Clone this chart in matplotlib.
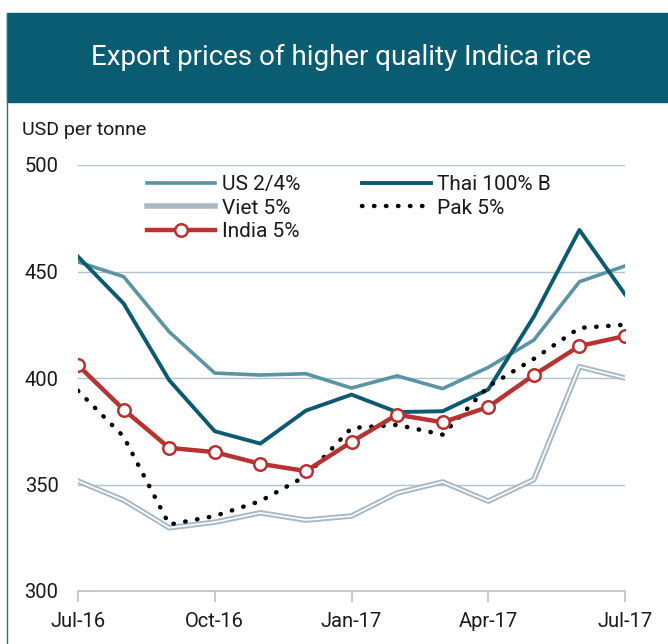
import matplotlib.pyplot as plt
from matplotlib.patches import Rectangle
from matplotlib.lines import Line2D

# Monthly export prices, Jul-16 .. Jul-17 (USD per tonne)
months = list(range(13))
tick_pos = [0, 3, 6, 9, 12]
tick_labels = ['Jul-16', 'Oct-16', 'Jan-17', 'Apr-17', 'Jul-17']

us = [454.5, 447.6, 421.7, 402.3, 401.4, 402.0, 395.3, 401.0, 395.0, 405.0, 417.8, 445.2, 452.6]
thai = [457.0, 435.0, 399.0, 375.0, 369.2, 384.7, 392.2, 384.0, 384.4, 394.6, 428.8, 469.5, 439.3]
viet = [351.6, 342.7, 329.7, 332.3, 336.7, 333.3, 335.2, 346.0, 351.2, 342.2, 352.3, 405.3, 400.0]
pak = [394.0, 372.5, 331.2, 335.2, 342.2, 354.0, 376.5, 378.0, 373.4, 396.0, 409.0, 423.5, 425.0]
india = [406.0, 385.2, 367.2, 365.2, 359.7, 356.3, 370.0, 382.8, 379.2, 386.4, 401.4, 415.0, 419.7]

plt.rcParams['font.family'] = ['Roboto', 'DejaVu Sans']

W, H = 668, 644
fig = plt.figure(figsize=(W / 100, H / 100), dpi=100)

# title banner and left frame line
fig.patches.append(Rectangle((7 / W, (H - 102) / H), 1 - 7 / W, 89 / H,
                             transform=fig.transFigure, color='#0a5c73', zorder=0))
fig.lines.append(Line2D([7 / W, 7 / W], [0, (H - 13) / H], transform=fig.transFigure,
                        color='#2f6f8a', lw=1))
fig.text(341 / W, (H - 57) / H, 'Export prices of higher quality Indica rice',
         color='white', fontsize=20, ha='center', va='center')
fig.text(22 / W, (H - 130) / H, 'USD per tonne', fontsize=14, ha='left', va='center',
         color='#1a1a1a')

ax = fig.add_axes([78 / W, (H - 591) / H, (625 - 78) / W, (591 - 165) / H])
grid_c = '#b3c3cf'

ax.plot(months, us, color='#5b95a3', lw=2.6, label='US 2/4%', zorder=3)
ax.plot(months, viet, color='#a9b9c6', lw=4, label='Viet 5%', zorder=2)
ax.plot(months, viet, color='white', lw=1.2, zorder=2)
ax.plot(months, india, color='#b83232', lw=3.2, marker='o', markersize=9,
        markerfacecolor='white', markeredgecolor='#b83232', markeredgewidth=1.8,
        label='India 5%', zorder=5)
ax.plot(months, thai, color='#0b5a72', lw=2.8, label='Thai 100% B', zorder=4)
ax.plot(months, pak, color='black', lw=3.2, linestyle=(0, (0.1, 2.6)),
        dash_capstyle='round', label='Pak 5%', zorder=4)

ax.set_xlim(0, 12)
ax.set_ylim(300, 500)
ax.set_yticks([300, 350, 400, 450, 500])
ax.set_xticks(tick_pos)
ax.set_xticklabels(tick_labels)
ax.grid(axis='y', color=grid_c, lw=1)
ax.set_axisbelow(True)
for s in ['top', 'right', 'left']:
    ax.spines[s].set_visible(False)
ax.spines['bottom'].set_color(grid_c)
ax.spines['bottom'].set_linewidth(1.2)
ax.tick_params(axis='x', colors=grid_c, length=8, width=1.2, labelsize=14.5,
               labelcolor='#1a1a1a', pad=7)
ax.tick_params(axis='y', length=0, labelsize=14.5, labelcolor='#1a1a1a', pad=14)
ax.patch.set_alpha(0)

leg = ax.legend(ncol=2, loc='upper left', bbox_to_anchor=(0.11, 0.995), frameon=False,
                fontsize=15, handlelength=3.3, handletextpad=0.3, columnspacing=3.0,
                labelspacing=0.2, borderaxespad=0)
for t in leg.get_texts():
    t.set_color('#1a1a1a')

fig.savefig('out.png', dpi=100)
